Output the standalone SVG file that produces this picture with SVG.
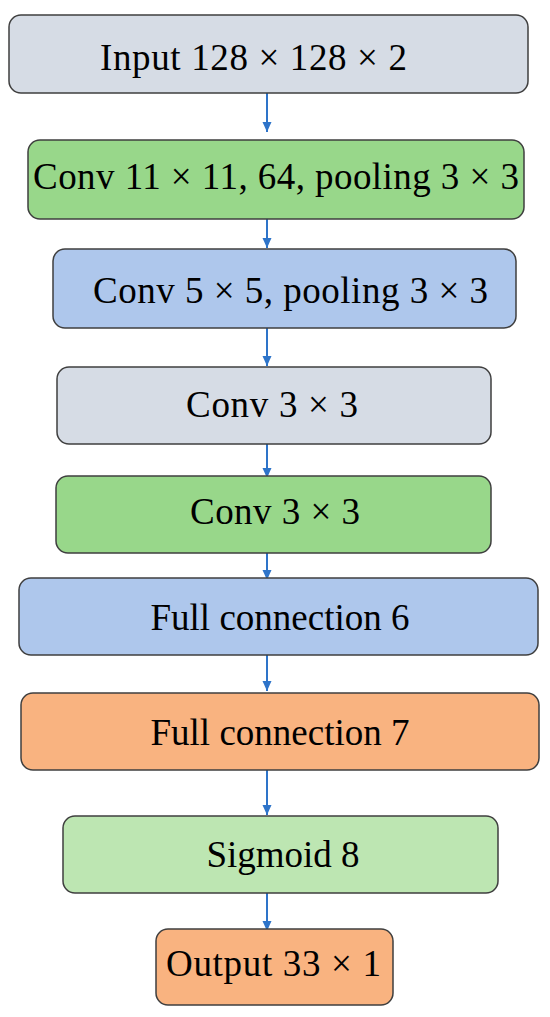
<svg xmlns="http://www.w3.org/2000/svg" width="550" height="1017" viewBox="0 0 550 1017">
<style>
.box{stroke:#3f3f3f;stroke-width:1.5}
.t{font-family:"Liberation Serif","Times New Roman",serif;font-size:37px;fill:#000;text-anchor:middle}
.grey{fill:#d6dce5}.green{fill:#98d78a}.blue{fill:#aec7ec}.orange{fill:#f9b380}.lgreen{fill:#bde6b2}
.c{stroke:#2e74c9;stroke-width:2;fill:none;marker-end:url(#ah)}
</style>
<defs>
<marker id="ah" markerWidth="11" markerHeight="11" refX="10" refY="5" orient="auto" markerUnits="userSpaceOnUse">
<path d="M0,0.5 L10,5 L0,9.5 Z" fill="#2e74c9"/>
</marker>
</defs>
<rect width="550" height="1017" fill="#fff"/>
<g id="connectors">
<path class="c" d="M267,93 V132"/>
<path class="c" d="M267,212 V248"/>
<path class="c" d="M267,328 V366"/>
<path class="c" d="M267,444 V478"/>
<path class="c" d="M267,553 V580"/>
<path class="c" d="M267,655 V691"/>
<path class="c" d="M267,770 V815"/>
<path class="c" d="M267,888 V931"/>
</g>
<g id="n1"><rect class="box grey" x="9" y="15" width="519" height="78" rx="12"/><text class="t" x="253.5" y="70" textLength="307" lengthAdjust="spacing">Input 128 × 128 × 2</text></g>
<g id="n2"><rect class="box green" x="28" y="140" width="496" height="79" rx="12"/><text class="t" x="276" y="189" textLength="486" lengthAdjust="spacing">Conv 11 × 11, 64, pooling 3 × 3</text></g>
<g id="n3"><rect class="box blue" x="53" y="249" width="463" height="79" rx="12"/><text class="t" x="290.5" y="303" textLength="395" lengthAdjust="spacing">Conv 5 × 5, pooling 3 × 3</text></g>
<g id="n4"><rect class="box grey" x="57" y="367" width="434" height="77" rx="12"/><text class="t" x="272" y="417" textLength="172" lengthAdjust="spacing">Conv 3 × 3</text></g>
<g id="n5"><rect class="box green" x="56" y="476" width="435" height="77" rx="12"/><text class="t" x="275" y="524" textLength="170" lengthAdjust="spacing">Conv 3 × 3</text></g>
<g id="n6"><rect class="box blue" x="19" y="578" width="519" height="77" rx="12"/><text class="t" x="280" y="630">Full connection 6</text></g>
<g id="n7"><rect class="box orange" x="21" y="693" width="518" height="77" rx="12"/><text class="t" x="280" y="745">Full connection 7</text></g>
<g id="n8"><rect class="box lgreen" x="63" y="816" width="435" height="77" rx="12"/><text class="t" x="283" y="867">Sigmoid 8</text></g>
<g id="n9"><rect class="box orange" x="156" y="929" width="237" height="76" rx="12"/><text class="t" x="273.5" y="976" textLength="215" lengthAdjust="spacing">Output 33 × 1</text></g>
</svg>
